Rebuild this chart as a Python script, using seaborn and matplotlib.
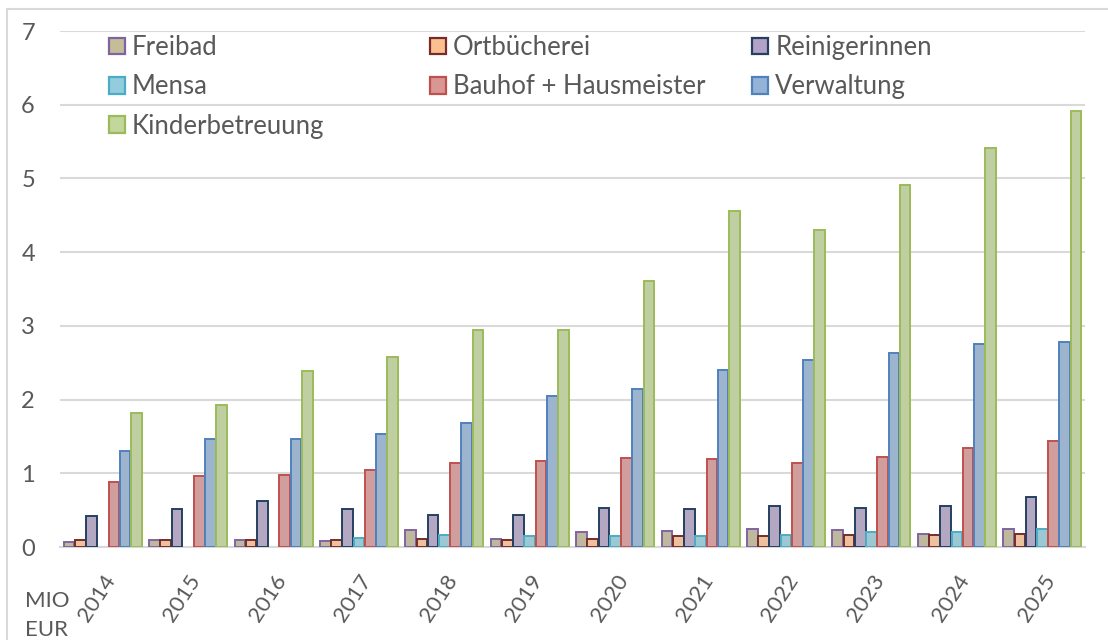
import numpy as np
import pandas as pd
import matplotlib
matplotlib.use("Agg")
import matplotlib.pyplot as plt
import seaborn as sns
from matplotlib.patches import Patch, Rectangle

#-----Data-----#
years = [str(y) for y in range(2014, 2026)]
series = ["Freibad", "Ortbücherei", "Reinigerinnen", "Mensa",
          "Bauhof + Hausmeister", "Verwaltung", "Kinderbetreuung"]

freibad = [0.07, 0.09, 0.09, 0.08, 0.23, 0.11, 0.21, 0.22, 0.24, 0.23, 0.18, 0.24]
ortbuecherei = [0.09, 0.09, 0.10, 0.10, 0.11, 0.10, 0.11, 0.15, 0.15, 0.16, 0.16, 0.17]
reinigerinnen = [0.42, 0.52, 0.63, 0.52, 0.43, 0.43, 0.53, 0.51, 0.56, 0.53, 0.56, 0.68]
mensa = [np.nan, np.nan, np.nan, 0.12, 0.16, 0.15, 0.15, 0.15, 0.16, 0.21, 0.20, 0.24]
bauhof = [0.88, 0.96, 0.98, 1.05, 1.14, 1.17, 1.21, 1.19, 1.14, 1.22, 1.34, 1.44]
verwaltung = [1.30, 1.46, 1.46, 1.53, 1.68, 2.05, 2.14, 2.40, 2.54, 2.63, 2.75, 2.78]
kinder = [1.82, 1.93, 2.39, 2.58, 2.94, 2.94, 3.61, 4.56, 4.30, 4.91, 5.41, 5.92]

face_colors = ["#c4bd97", "#fac090", "#b3a2c7", "#93cddd", "#d99694", "#95b3d7", "#c3d69b"]
edge_colors = ["#8064a2", "#772c2a", "#254061", "#4bacc6", "#c0504d", "#4f81bd", "#9bbb59"]

values = [freibad, ortbuecherei, reinigerinnen, mensa, bauhof, verwaltung, kinder]
df = pd.DataFrame({
    "Jahr": years * len(series),
    "Bereich": [s for s in series for _ in years],
    "Wert": [v for vals in values for v in vals],
})

#-----Plot-----#
sns.set_theme(style="white")
plt.rcParams["font.family"] = ["Lato", "DejaVu Sans"]
text_color = "#595959"
grid_color = "#d9d9d9"

fig = plt.figure(figsize=(11.08, 6.4), dpi=100)
ax = fig.add_axes([60 / 1108, 1 - 547 / 640, 1025 / 1108, 516 / 640])

sns.barplot(data=df, x="Jahr", y="Wert", hue="Bereich", hue_order=series,
            order=years, palette=face_colors, width=0.92, gap=0.05,
            errorbar=None, legend=False, ax=ax, zorder=3)

# edge colours per series
for cont, ec in zip(ax.containers, edge_colors):
    for bar in cont:
        bar.set_edgecolor(ec)
        bar.set_linewidth(1.4)

ax.set_ylim(0, 7)
ax.set_xlim(-0.5, len(years) - 0.5)
ax.set_yticks(range(0, 8))
ax.yaxis.grid(True, color=grid_color, linewidth=1.5, zorder=0)
ax.set_axisbelow(True)
for side in ["top", "right", "left"]:
    ax.spines[side].set_visible(False)
ax.spines["bottom"].set_color(grid_color)
ax.spines["bottom"].set_linewidth(1.5)
ax.set_xlabel("")
ax.set_ylabel("")
ax.tick_params(axis="y", length=0, pad=18, labelsize=17, labelcolor=text_color)
ax.tick_params(axis="x", length=0, pad=17, labelsize=16, labelcolor=text_color)
for lbl in ax.get_xticklabels():
    lbl.set_rotation(57)
    lbl.set_ha("right")
    lbl.set_va("top")
    lbl.set_rotation_mode("anchor")

# legend: three fixed-width columns, filled row by row like the original
handles = [Patch(facecolor=fc, edgecolor=ec, linewidth=1.6, label=s)
           for s, fc, ec in zip(series, face_colors, edge_colors)]
columns = [[0, 3, 6], [1, 4], [2, 5]]
col_x = [109, 430, 752]
for idx, x0 in zip(columns, col_x):
    leg = fig.legend([handles[i] for i in idx], [series[i] for i in idx],
                     loc="upper left", bbox_to_anchor=(x0 / 1108, 1 - 35 / 640),
                     frameon=False, fontsize=18.5, handlelength=0.62,
                     handleheight=0.62, handletextpad=0.28, labelspacing=0.56,
                     borderpad=0, borderaxespad=0)
    for t in leg.get_texts():
        t.set_color(text_color)

fig.text(25 / 1108, 1 - 607 / 640, "MIO", fontsize=16, color=text_color, va="baseline")
fig.text(25 / 1108, 1 - 636 / 640, "EUR", fontsize=16, color=text_color, va="baseline")

# chart border (only top and left edge inside the image)
fig.patches.append(Rectangle((7 / 1108, -0.1), 1.2, 1 - 9 / 640 + 0.1,
                             transform=fig.transFigure, fill=False,
                             edgecolor=grid_color, linewidth=1.5))

fig.savefig("out.png", dpi=100)
